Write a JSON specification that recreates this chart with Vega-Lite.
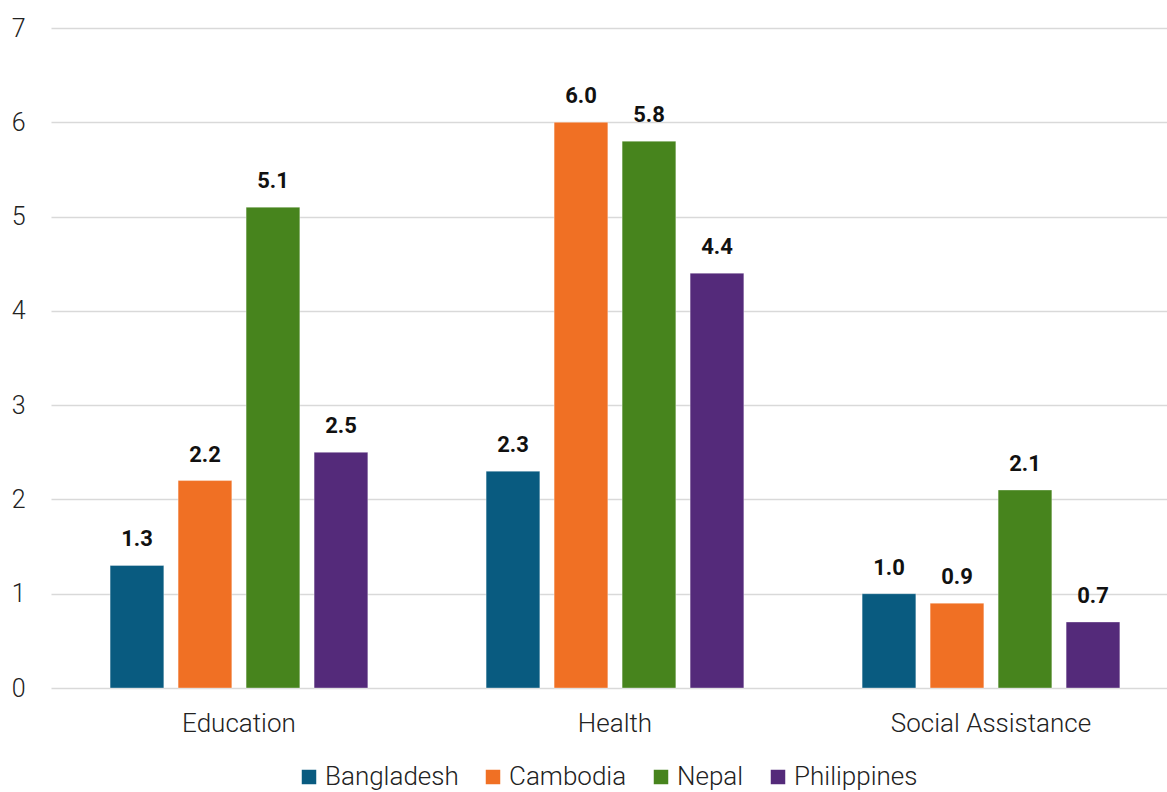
{
  "$schema": "https://vega.github.io/schema/vega-lite/v6.json",
  "width": 1116,
  "height": 660,
  "autosize": {"type": "none"},
  "padding": {"left": 51, "top": 28, "right": 0, "bottom": 104},
  "background": "#ffffff",
  "config": {
    "view": {"stroke": null},
    "font": "Roboto"
  },
  "data": {
    "values": [
      {"sector": "Education", "country": "Bangladesh", "value": 1.3},
      {"sector": "Education", "country": "Cambodia", "value": 2.2},
      {"sector": "Education", "country": "Nepal", "value": 5.1},
      {"sector": "Education", "country": "Philippines", "value": 2.5},
      {"sector": "Health", "country": "Bangladesh", "value": 2.3},
      {"sector": "Health", "country": "Cambodia", "value": 6.0},
      {"sector": "Health", "country": "Nepal", "value": 5.8},
      {"sector": "Health", "country": "Philippines", "value": 4.4},
      {"sector": "Social Assistance", "country": "Bangladesh", "value": 1.0},
      {"sector": "Social Assistance", "country": "Cambodia", "value": 0.9},
      {"sector": "Social Assistance", "country": "Nepal", "value": 2.1},
      {"sector": "Social Assistance", "country": "Philippines", "value": 0.7}
    ]
  },
  "encoding": {
    "x": {
      "field": "sector",
      "type": "nominal",
      "sort": ["Education", "Health", "Social Assistance"],
      "scale": {"paddingInner": 0.2766, "paddingOuter": 0.1223, "align": 0.565},
      "axis": {
        "title": null,
        "domain": false,
        "ticks": false,
        "labelAngle": 0,
        "labelPadding": 22,
        "labelLimit": 400,
        "labelFontSize": 26,
        "labelFontWeight": 300,
        "labelColor": "#222222",
        "labelFont": "Roboto"
      }
    },
    "xOffset": {
      "field": "country",
      "type": "nominal",
      "sort": ["Bangladesh", "Cambodia", "Nepal", "Philippines"],
      "scale": {"paddingInner": 0.21, "paddingOuter": 0.105}
    },
    "y": {
      "field": "value",
      "type": "quantitative",
      "scale": {"domain": [0, 7], "nice": false},
      "axis": {
        "title": null,
        "values": [0, 1, 2, 3, 4, 5, 6, 7],
        "domain": false,
        "ticks": false,
        "grid": true,
        "gridColor": "#d9d9d9",
        "gridWidth": 1.5,
        "labelPadding": 26,
        "labelFontSize": 25,
        "labelFontWeight": 300,
        "labelColor": "#222222",
        "labelFont": "Roboto"
      }
    }
  },
  "layer": [
    {
      "mark": {"type": "bar", "stroke": "#ffffff", "strokeOpacity": 0.35, "strokeWidth": 1},
      "encoding": {
        "color": {
          "field": "country",
          "type": "nominal",
          "scale": {
            "domain": ["Bangladesh", "Cambodia", "Nepal", "Philippines"],
            "range": ["#095b80", "#f07024", "#47841d", "#542a7a"]
          },
          "legend": {
            "title": null,
            "orient": "none",
            "direction": "horizontal",
            "legendX": 245,
            "legendY": 736,
            "padding": 0,
            "symbolType": "square",
            "symbolSize": 210,
            "symbolStrokeWidth": 0,
            "symbolOpacity": 1,
            "labelFontSize": 26,
            "labelFontWeight": 300,
            "labelColor": "#222222",
            "labelFont": "Roboto",
            "labelLimit": 300,
            "labelOffset": 3,
            "columnPadding": 21
          }
        }
      }
    },
    {
      "mark": {
        "type": "text",
        "baseline": "alphabetic",
        "dy": -19,
        "font": "Roboto",
        "fontWeight": "bold",
        "fontSize": 22,
        "color": "#111111"
      },
      "encoding": {
        "text": {"field": "value", "type": "quantitative", "format": ".1f"}
      }
    }
  ]
}
